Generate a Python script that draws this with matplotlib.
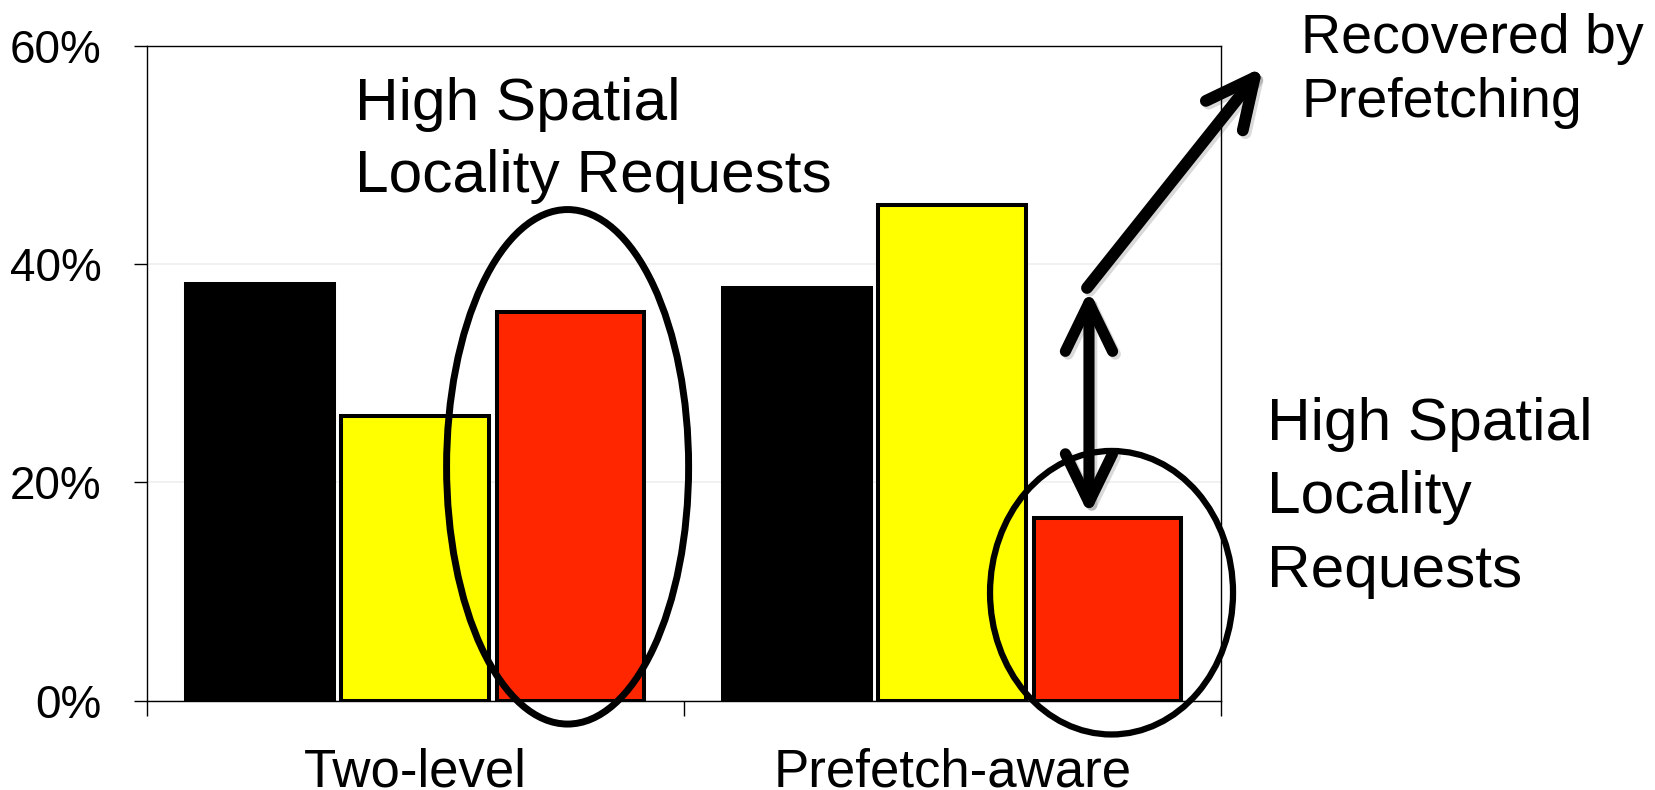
import matplotlib
matplotlib.use("Agg")
import matplotlib.pyplot as plt
import numpy as np
from matplotlib.patches import Ellipse, FancyArrowPatch
from matplotlib import patheffects

plt.rcParams['font.family'] = ['Liberation Sans', 'DejaVu Sans']

# values in percent, one list per bar colour
schedulers = ["Two-level", "Prefetch-aware"]
black_vals = [38.2, 37.8]
yellow_vals = [26.1, 45.4]
red_vals = [35.6, 16.7]   # high spatial locality requests
bar_colors = ["#000000", "#FFFF00", "#FF2600"]

y_ticks = [0, 20, 40, 60]
y_tick_labels = ["0%", "20%", "40%", "60%"]

W, H = 1656, 790
fig = plt.figure(figsize=(W / 100, H / 100), dpi=100)
ax = fig.add_axes([146.7 / W, 89.5 / H, 1074 / W, 654.3 / H])

x = np.arange(len(schedulers))
width = 0.275
step = 0.289
for i, (vals, c) in enumerate(zip([black_vals, yellow_vals, red_vals], bar_colors)):
    ax.bar(x + (i - 1) * step, vals, width, color=c, edgecolor="black",
           linewidth=2.9, zorder=3)

ax.set_xlim(-0.5, 1.5)
ax.set_ylim(0, 60)
ax.set_yticks(y_ticks, y_tick_labels)
ax.set_xticks(x, schedulers)
ax.set_xticks([-0.5, 0.5, 1.5], minor=True)
ax.tick_params(axis="x", which="major", length=0, pad=34, labelsize=38)
ax.tick_params(axis="x", which="minor", length=11, width=1, direction="out")
ax.tick_params(axis="y", length=9.4, width=1, pad=23, labelsize=33)

ax.yaxis.grid(True, color="#EFEFEF", linewidth=1.2)
ax.set_axisbelow(True)
for s in ax.spines.values():
    s.set_linewidth(1.0)
    s.set_color("black")

# circled regions
ax.add_patch(Ellipse((0.2838, 21.43), 0.4507, 47.18, fill=False, lw=5,
                     edgecolor="black", zorder=4, clip_on=False))
ax.add_patch(Ellipse((1.2967, 9.885), 0.4525, 26.0, fill=False, lw=4.5,
                     edgecolor="black", zorder=4, clip_on=False))

# arrows
shadow = [patheffects.SimpleLineShadow(offset=(2, -2), shadow_color="k", alpha=0.15),
          patheffects.Normal()]
gap = FancyArrowPatch((1.2547, 17.0), (1.2547, 37.64),
                      arrowstyle="<->,head_length=35,head_width=17",
                      mutation_scale=1, lw=8, color="black", shrinkA=0, shrinkB=0,
                      capstyle="round", joinstyle="round", clip_on=False, zorder=5,
                      path_effects=shadow)
ax.add_patch(gap)
recovered = FancyArrowPatch((1.251, 37.83), (1.5788, 58.09),
                            arrowstyle="->,head_length=35,head_width=17",
                            mutation_scale=1, lw=8.5, color="black", shrinkA=0, shrinkB=0,
                            capstyle="round", joinstyle="round", clip_on=False, zorder=5,
                            path_effects=shadow)
ax.add_patch(recovered)

# annotations (anchored on the baseline of the last line)
fig.text(355.5 / W, 1 - 191.7 / H, "High Spatial\nLocality Requests", fontsize=43.5,
         ha="left", va="baseline", linespacing=1.39)
fig.text(1301 / W, 1 - 117 / H, "Recovered by\nPrefetching", fontsize=40,
         ha="left", va="baseline", linespacing=1.31)
fig.text(1267 / W, 1 - 586.7 / H, "High Spatial\nLocality\nRequests", fontsize=43.5,
         ha="left", va="baseline", linespacing=1.425)

fig.savefig("out.png", dpi=100)
